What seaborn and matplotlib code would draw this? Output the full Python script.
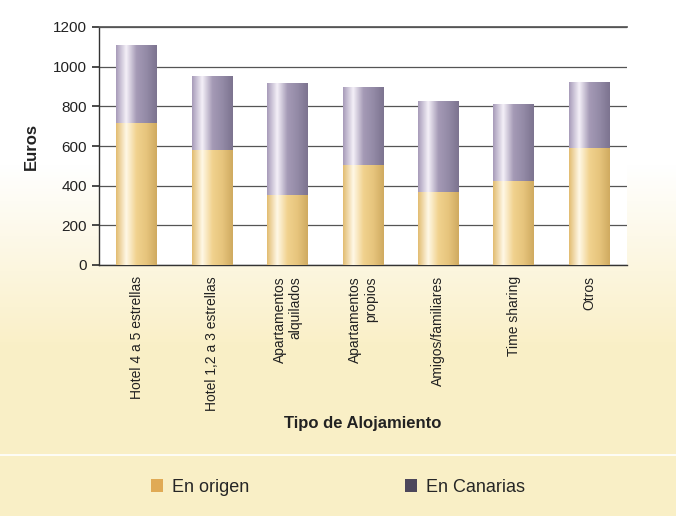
import numpy as np
import pandas as pd
import matplotlib
matplotlib.use("Agg")
import matplotlib.pyplot as plt
import seaborn as sns
from matplotlib.patches import Patch
from matplotlib.colors import LinearSegmentedColormap

categories = ["Hotel 4 a 5 estrellas", "Hotel 1,2 a 3 estrellas", "Apartamentos\nalquilados",
              "Apartamentos\npropios", "Amigos/familiares", "Time sharing", "Otros"]
en_origen = [715, 580, 355, 505, 370, 425, 590]
en_canarias = [395, 375, 565, 390, 455, 385, 335]
yticks = [0, 200, 400, 600, 800, 1000, 1200]

df = pd.DataFrame({"cat": categories, "origen": en_origen, "canarias": en_canarias})
df["total"] = df["origen"] + df["canarias"]

sns.set_theme(style="white")
plt.rcParams["font.family"] = ["Liberation Sans Narrow", "Liberation Sans", "DejaVu Sans"]

fig = plt.figure(figsize=(6.76, 5.16), dpi=100)

# background gradient (white top -> cream bottom)
bg = fig.add_axes([0, 0, 1, 1], zorder=-10)
grad = np.linspace(0, 1, 516)
grad = np.clip((grad - 0.32) / 0.35, 0, 1)
top = np.array([1.0, 1.0, 1.0])
bot = np.array([0.98, 0.94, 0.78])
img = top[None, :] * (1 - grad[:, None]) + bot[None, :] * grad[:, None]
img = np.repeat(img[:, None, :], 2, axis=1)
bg.imshow(img, aspect="auto", extent=[0, 1, 0, 1], origin="upper")
bg.plot([0, 1], [1 - 455 / 516, 1 - 455 / 516], color="white", lw=1.2)
bg.set_xlim(0, 1); bg.set_ylim(0, 1)
bg.axis("off")

ax = fig.add_axes([99 / 676, 1 - 265 / 516, (627 - 99) / 676, (265 - 27) / 516])
ax.set_facecolor("white")

sns.barplot(data=df, x="cat", y="total", color="#8F85A3", width=0.54, ax=ax,
            saturation=1, zorder=2)
n = len(categories)
sns.barplot(data=df, x="cat", y="origen", color="#E8C47A", width=0.54, ax=ax,
            saturation=1, zorder=3)

gold = LinearSegmentedColormap.from_list("g", ["#E2BC70", "#FFF8E6", "#F1D28E", "#E6C47C", "#CFAA60"])
purp = LinearSegmentedColormap.from_list("p", ["#A79BB9", "#F4F0F8", "#A59AB6", "#938AA6", "#7C738F"])
xs = np.linspace(0, 1, 256)
shade = np.array([xs])
for i, p in enumerate(ax.patches):
    cm = purp if i < n else gold
    x0, y0 = p.get_x(), p.get_y()
    w, h = p.get_width(), p.get_height()
    im = ax.imshow(shade, cmap=cm, aspect="auto", extent=[x0, x0 + w, y0, y0 + h],
                   zorder=p.get_zorder() + 0.1, interpolation="bilinear")
    im.set_clip_path(p)
    p.set_edgecolor("none")

ax.set_xlim(-0.5, n - 0.5)
ax.set_ylim(0, 1200)
ax.set_yticks(yticks)
ax.set_yticklabels([str(v) for v in yticks], fontsize=11, color="#222222")
ax.yaxis.grid(True, color="#555555", lw=0.9, zorder=0)
ax.set_axisbelow(True)
ax.set_xticks(np.arange(-0.5, n, 1), minor=True)
ax.set_xticks(np.arange(n))
ax.set_xticklabels(categories, rotation=90, fontsize=10, color="#222222",
                   va="top", ha="center", ma="right")
ax.tick_params(axis="x", which="major", length=0, pad=8)
ax.tick_params(axis="x", which="minor", length=5, color="#333333", direction="out")
ax.tick_params(axis="y", length=5, color="#333333", direction="out", left=True)
for s in ["left", "bottom"]:
    ax.spines[s].set_color("#333333")
    ax.spines[s].set_linewidth(1.0)
ax.spines["right"].set_visible(False)
ax.spines["top"].set_color("#555555")

ax.set_ylabel("Euros", fontsize=12, fontweight="bold", color="#222222", labelpad=10)
ax.set_xlabel("Tipo de Alojamiento", fontsize=12, fontweight="bold", color="#222222", labelpad=4)

handles = [Patch(facecolor="#E0AA55", edgecolor="none", label="En origen"),
           Patch(facecolor="#4D475B", edgecolor="none", label="En Canarias")]
fig.legend(handles=handles, loc="center", bbox_to_anchor=(0.50, 1 - 487 / 516), ncol=2,
           frameon=False, fontsize=13, columnspacing=8.6, handlelength=0.7, handleheight=0.7,
           handletextpad=0.5)

fig.savefig("out.png", dpi=100)
